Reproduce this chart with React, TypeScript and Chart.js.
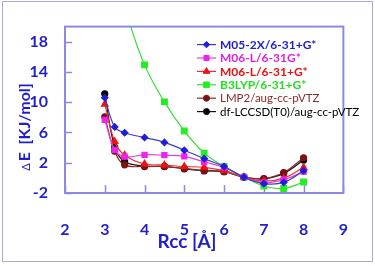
import React, { useEffect, useRef } from 'react';
import { Chart, registerables } from 'chart.js';

Chart.register(...registerables);

// Intermolecular distance (Å)
const rcc = [3, 3.25, 3.5, 4, 4.5, 5, 5.5, 6, 6.5, 7, 7.5, 8];

// Interaction energy ΔE (kJ/mol) per method
const m052x = [10.6, 6.74, 5.97, 5.33, 4.69, 3.66, 2.55, 1.5, 0.09, -0.76, -0.6, 0.95];
const m06lSmall = [7.68, 3.7, 2.8, 3.05, 3.0, 2.84, 2.1, 1.4, 0.09, -0.63, -0.25, 0.82];
const m06lDiffuse = [9.74, 4.81, 3.0, 1.85, 1.69, 1.5, 1.4, 0.95, 0.09, -0.42, -0.04, 1.38];
const b3lyp = [null, null, 22.4, 14.94, 10.05, 6.2, 3.27, 1.51, 0.09, -1.07, -1.41, -0.55];
const lmp2 = [8.07, 3.53, 1.72, 1.5, 1.5, 1.25, 0.95, 0.85, 0.09, -0.1, 0.7, 2.66];
const lccsd = [11.12, 4.08, 2.15, 1.56, 1.51, 1.2, 0.95, 0.82, 0.09, -0.12, 0.6, 2.37];

const seriesLabels = [
  'M05-2X/6-31+G*',
  'M06-L/6-31G*',
  'M06-L/6-31+G*',
  'B3LYP/6-31+G*',
  'LMP2/aug-cc-pVTZ',
  'df-LCCSD(T0)/aug-cc-pVTZ',
];

const xTicks = [2, 3, 4, 5, 6, 7, 8, 9];
const yTicks = [-2, 2, 6, 10, 14, 18];

const xTitle = 'Rcc [Å]';
const yTitleSymbol = 'Δ';
const yTitleRest = 'E  [KJ/mol]';

const TEXT_BLUE = '#1f1fcc';
const AXIS_COLOR = '#8a8ae6';
const FONT = 'Lato, "Open Sans", sans-serif';

type SeriesStyle = {
  values: (number | null)[];
  line: string;
  point: string;
  text: string;
  shape: string;
  radius: number;
  bold: boolean;
};

const styles: SeriesStyle[] = [
  { values: m052x, line: '#3a3ad0', point: '#1e1ed8', text: '#1e1ec8', shape: 'rectRot', radius: 3.2, bold: true },
  { values: m06lSmall, line: '#e040e0', point: '#ee22ee', text: '#e020e0', shape: 'rect', radius: 3.6, bold: true },
  { values: m06lDiffuse, line: '#f03030', point: '#f01010', text: '#e81010', shape: 'triangle', radius: 3.8, bold: true },
  { values: b3lyp, line: '#33dd33', point: '#22ee22', text: '#22dd22', shape: 'rect', radius: 4, bold: true },
  { values: lmp2, line: '#8b2a2a', point: '#7a1414', text: '#8b2a2a', shape: 'circle', radius: 3, bold: false },
  { values: lccsd, line: '#111111', point: '#000000', text: '#000000', shape: 'circle', radius: 3, bold: false },
];

function drawMarker(ctx: CanvasRenderingContext2D, shape: string, r: number, x: number, y: number) {
  ctx.beginPath();
  if (shape === 'circle') {
    ctx.arc(x, y, r, 0, Math.PI * 2);
  } else if (shape === 'rect') {
    const s = r * Math.SQRT1_2;
    ctx.rect(x - s, y - s, 2 * s, 2 * s);
  } else if (shape === 'rectRot') {
    ctx.moveTo(x, y - r);
    ctx.lineTo(x + r, y);
    ctx.lineTo(x, y + r);
    ctx.lineTo(x - r, y);
    ctx.closePath();
  } else if (shape === 'triangle') {
    ctx.moveTo(x, y - r);
    ctx.lineTo(x + r * 0.866, y + r * 0.5);
    ctx.lineTo(x - r * 0.866, y + r * 0.5);
    ctx.closePath();
  }
  ctx.fill();
  ctx.stroke();
}

// Plot frame, inward tick marks, axis titles and the in-plot legend
const plotDecor = {
  id: 'plotDecor',
  beforeDatasetsDraw(chart: any) {
    const { ctx, chartArea: a, scales } = chart;
    ctx.save();
    ctx.strokeStyle = AXIS_COLOR;
    ctx.lineWidth = 1.5;
    ctx.beginPath();
    scales.y.ticks.forEach((t: any) => {
      const y = Math.round(scales.y.getPixelForValue(t.value)) + 0.5;
      ctx.moveTo(a.left, y);
      ctx.lineTo(a.left + 7, y);
    });
    scales.x.ticks.forEach((t: any) => {
      const x = Math.round(scales.x.getPixelForValue(t.value)) + 0.5;
      ctx.moveTo(x, a.bottom);
      ctx.lineTo(x, a.bottom - 8);
    });
    ctx.stroke();
    ctx.lineWidth = 2;
    ctx.strokeRect(a.left, a.top, a.right - a.left, a.bottom - a.top);
    ctx.restore();
  },
  afterDraw(chart: any) {
    const { ctx, chartArea: a } = chart;
    ctx.save();

    ctx.fillStyle = TEXT_BLUE;
    ctx.textBaseline = 'middle';
    ctx.textAlign = 'center';
    ctx.font = `bold 19px ${FONT}`;
    ctx.fillText(xTitle, a.left + 122, 242);

    ctx.translate(25, 127);
    ctx.rotate(-Math.PI / 2);
    ctx.font = `11px ${FONT}`;
    const wSym = ctx.measureText(yTitleSymbol).width;
    ctx.font = `bold 16px ${FONT}`;
    const wRest = ctx.measureText(yTitleRest).width;
    const start = -(wSym + 2 + wRest) / 2;
    ctx.textAlign = 'left';
    ctx.font = `11px ${FONT}`;
    ctx.fillText(yTitleSymbol, start, 1);
    ctx.font = `bold 16px ${FONT}`;
    ctx.fillText(yTitleRest, start + wSym + 2, 0);
    ctx.setTransform(1, 0, 0, 1, 0, 0);

    const lx = a.left + 132;
    const ly = a.top + 18;
    chart.data.datasets.forEach((ds: any, i: number) => {
      const s = styles[i];
      const y = ly + i * 13.4;
      ctx.strokeStyle = s.line;
      ctx.lineWidth = 1.2;
      ctx.beginPath();
      ctx.moveTo(lx, y);
      ctx.lineTo(lx + 19, y);
      ctx.stroke();
      ctx.fillStyle = s.point;
      ctx.strokeStyle = s.point;
      ctx.lineWidth = 1;
      drawMarker(ctx, s.shape, s.radius, lx + 9.5, y);
      ctx.fillStyle = s.text;
      ctx.textAlign = 'left';
      ctx.textBaseline = 'middle';
      ctx.font = s.bold ? `bold 12px ${FONT}` : `11.5px ${FONT}`;
      ctx.fillText(ds.label, lx + 23, y + 0.5);
    });
    ctx.restore();
  },
};

export default function App() {
  const canvasRef = useRef<HTMLCanvasElement | null>(null);

  useEffect(() => {
    if (!canvasRef.current) return;
    const datasets = styles.map((s, i) => ({
      label: seriesLabels[i],
      data: rcc
        .map((x, j) => ({ x, y: s.values[j] }))
        .filter((p) => p.y !== null),
      borderColor: s.line,
      backgroundColor: s.point,
      pointBackgroundColor: s.point,
      pointBorderColor: s.point,
      pointStyle: s.shape,
      pointRadius: s.radius,
      borderWidth: 1.2,
      tension: 0.4,
      fill: false,
    }));

    const chart = new Chart(canvasRef.current, {
      type: 'line',
      data: { datasets },
      plugins: [plotDecor],
      options: {
        responsive: false,
        animation: false,
        devicePixelRatio: 1,
        layout: { padding: { left: 0, right: 13, top: 22, bottom: 0 } },
        plugins: {
          legend: { display: false },
          tooltip: { enabled: false },
        },
        scales: {
          x: {
            type: 'linear',
            min: xTicks[0],
            max: xTicks[xTicks.length - 1],
            border: { display: false },
            grid: { display: false, drawTicks: false },
            ticks: {
              stepSize: 1,
              padding: 27,
              color: TEXT_BLUE,
              font: { family: FONT, size: 16, weight: 'bold' },
            },
            afterBuildTicks: (s: any) => {
              s.ticks = xTicks.map((v) => ({ value: v }));
            },
            afterFit: (s: any) => {
              s.height = 73;
            },
          },
          y: {
            type: 'linear',
            min: -2,
            max: 20,
            border: { display: false },
            grid: { display: false, drawTicks: false },
            ticks: {
              padding: 17,
              color: TEXT_BLUE,
              font: { family: FONT, size: 16, weight: 'bold' },
            },
            afterBuildTicks: (s: any) => {
              s.ticks = yTicks.map((v) => ({ value: v }));
            },
            afterFit: (s: any) => {
              s.width = 65;
            },
          },
        },
      } as any,
    });
    return () => chart.destroy();
  }, []);

  return (
    <div style={{ position: 'absolute', left: 0, top: 0, width: 375, height: 266, background: '#fff' }}>
      <div
        style={{
          position: 'absolute',
          left: 2,
          top: 1,
          width: 371,
          height: 261,
          border: '1px solid #a8a8e2',
          boxSizing: 'border-box',
        }}
      />
      <canvas ref={canvasRef} width={375} height={266} style={{ position: 'absolute', left: 0, top: 0 }} />
    </div>
  );
}
